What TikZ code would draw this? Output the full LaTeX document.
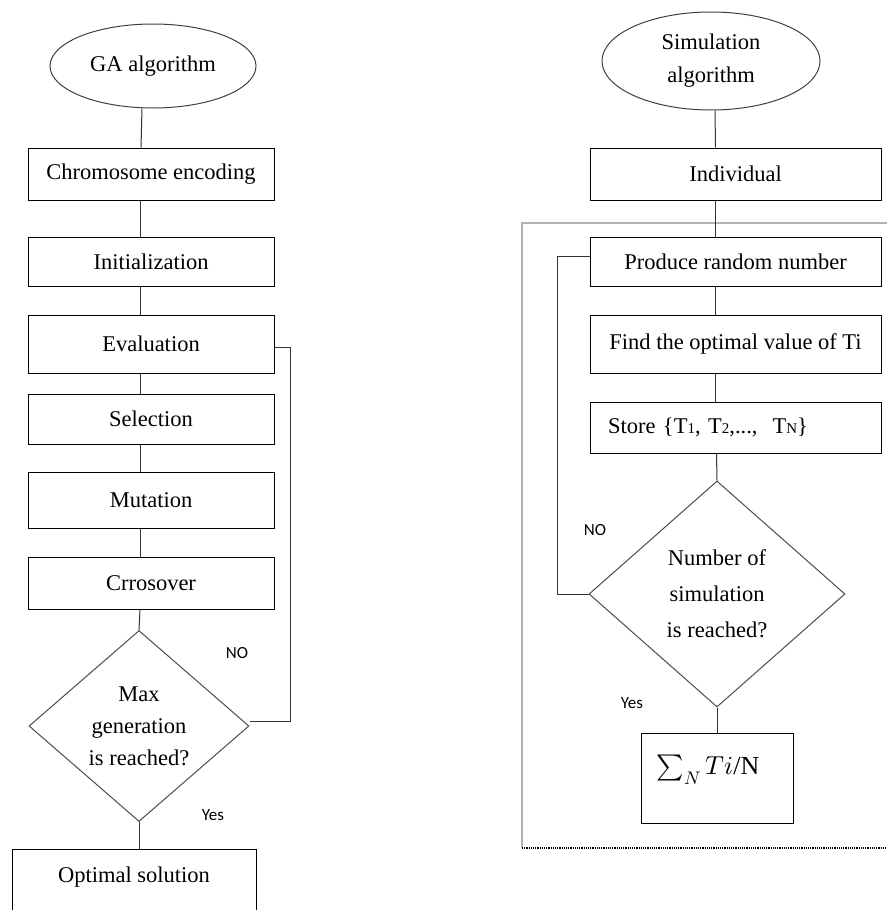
\documentclass[tikz,border=0pt]{standalone}
\usepackage{fontspec}
\usepackage{unicode-math}
\setmainfont{Liberation Serif}
\setmathfont{Latin Modern Math}
\newfontfamily\lblfont{Carlito}
\usetikzlibrary{shapes.geometric}
\tikzset{
  x=1pt, y=-1pt,
  txt/.style={font=\fontsize{22.5}{26}\selectfont},
  lbox/.style={draw=black, line width=1pt, rectangle, inner sep=0pt, minimum width=246pt, txt},
  rbox/.style={draw=black, line width=1pt, rectangle, inner sep=0pt, minimum width=291pt, txt},
  oval/.style={draw=black!75, line width=1pt, ellipse, inner sep=0pt, txt},
  decide/.style={draw=black!70, line width=1pt, diamond, inner sep=0pt, align=center, font=\fontsize{22.5}{32}\selectfont},
  conn/.style={draw=black!80, line width=1pt},
  frame/.style={draw=black!30, line width=1.6pt},
  lbl/.style={font=\lblfont\fontsize{17}{20}\selectfont, inner sep=0pt}
}
\begin{document}
\begin{tikzpicture}
\useasboundingbox (0,0) rectangle (887,910);
\clip (0,0) rectangle (887,910);
% ---------- left flowchart ----------
\node[oval, minimum width=206pt, minimum height=84pt] (ga) at (153,66) {GA algorithm};
\node[lbox, minimum height=52pt] (enc) at (151,174) {Chromosome encoding};
\node[lbox, minimum height=49pt] (init) at (151,261.5) {Initialization};
\node[lbox, minimum height=58pt] (eval) at (151,344) {Evaluation};
\node[lbox, minimum height=50pt] (sel) at (151,419) {Selection};
\node[lbox, minimum height=56pt] (mut) at (151,500) {Mutation};
\node[lbox, minimum height=52pt] (cross) at (151,583) {Crrosover};
\node[decide, minimum width=220pt, minimum height=191pt] (dga) at (139,726) {Max\\generation\\is reached?};
\node[draw=black, line width=1pt, rectangle, minimum width=244pt, minimum height=100pt, anchor=north] (opt) at (134,849) {};
\node[txt, inner sep=0pt] (optt) at (134,877) {Optimal solution};
\node[lbl] (no1) at (237,653) {NO};
\node[lbl] (yes1) at (213,815) {Yes};
\coordinate (fbL) at (290,0);

\draw[conn] ([xshift=-11pt]ga.south) -- ([xshift=-10pt]enc.north);
\draw[conn] ([xshift=-11pt]enc.south) -- ([xshift=-11pt]init.north);
\draw[conn] ([xshift=-11pt]init.south) -- ([xshift=-11pt]eval.north);
\draw[conn] ([xshift=-11pt]eval.south) -- ([xshift=-11pt]sel.north);
\draw[conn] ([xshift=-11pt]sel.south) -- ([xshift=-11pt]mut.north);
\draw[conn] ([xshift=-11pt]mut.south) -- ([xshift=-11pt]cross.north);
\draw[conn] ([xshift=-11pt]cross.south) -- (dga.north);
\draw[conn] (dga.south) -- (dga.south |- opt.north);
\draw[conn] ([yshift=-3pt]eval.east) -- ([yshift=-3pt]eval.east -| fbL) |- ([yshift=5pt]dga.east);

% ---------- right flowchart ----------
\node[oval, minimum width=218pt, minimum height=98pt, align=center, font=\fontsize{22.5}{33}\selectfont] (sim) at (711,61) {Simulation\\algorithm};
\node[rbox, minimum height=52pt] (ind) at (735.5,174) {Individual};
\node[rbox, minimum height=49pt] (prod) at (735.5,261.5) {Produce random number};
\node[rbox, minimum height=58pt] (find) at (735.5,344) {Find the optimal value of Ti};
\node[rbox, minimum height=51pt, text width=255pt, align=left] (store) at (735.5,427.5) {Store \{T{\fontsize{15}{15}\selectfont 1}, T{\fontsize{15}{15}\selectfont 2},..., \ T{\fontsize{15}{15}\selectfont N}\}};
\node[decide, minimum width=256pt, minimum height=226pt, font=\fontsize{22.5}{36}\selectfont] (dsim) at (717,594) {Number of\\simulation\\is reached?};
\node[draw=black, line width=1pt, rectangle, minimum width=152pt, minimum height=90pt, inner sep=0pt] (sum) at (717,778) {};
\node[inner sep=0pt, font=\fontsize{26}{30}\selectfont] (sumt) at (708,770) {$\textstyle\sum_{N} Ti$/N};
\node[lbl] (no2) at (595,530) {NO};
\node[lbl] (yes2) at (632,703) {Yes};
\coordinate (fbR) at (557,0);

% frame
\draw[frame] (887,223) -- (522,223) -- (522,848);
\draw[black, line width=1.2pt, densely dotted] (522,848) -- (887,848);

\draw[conn] (sim.south) ++(4pt,0) -- ([xshift=-20pt]ind.north);
\draw[conn] ([xshift=-20pt]ind.south) -- ([xshift=-20pt]prod.north);
\draw[conn] ([xshift=-20pt]prod.south) -- ([xshift=-20pt]find.north);
\draw[conn] ([xshift=-20pt]find.south) -- ([xshift=-20pt]store.north);
\draw[conn] ([xshift=-19pt]store.south) -- (dsim.north);
\draw[conn] (dsim.south) -- (sum.north);
\draw[conn] (dsim.west) -- (dsim.west -| fbR) |- ([yshift=5pt]prod.west);
\end{tikzpicture}
\end{document}
